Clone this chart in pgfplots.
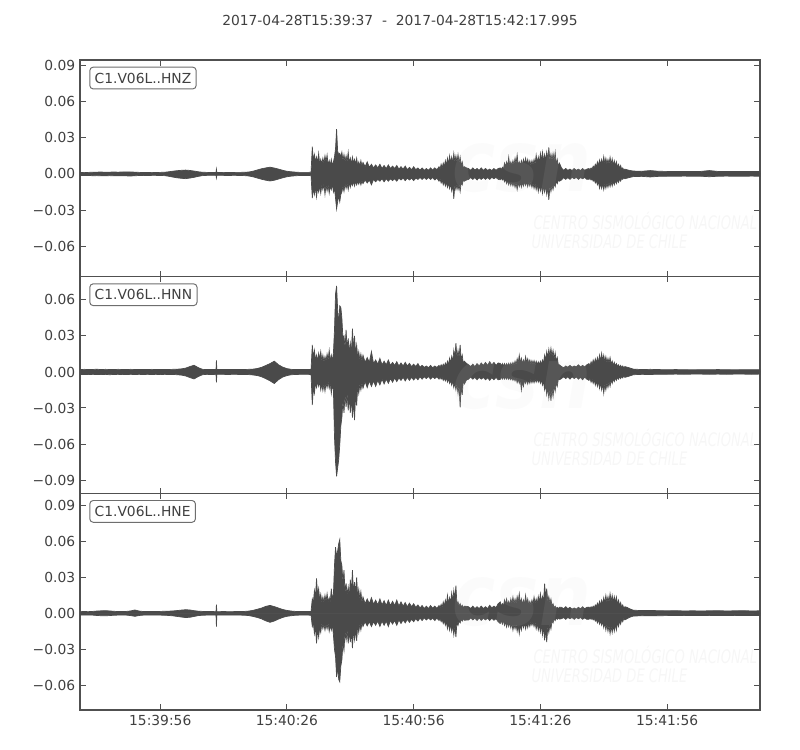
\documentclass[border=0pt]{standalone}
\usepackage{fontspec}
\setmainfont{DejaVu Sans}
\usepackage{pgfplots}
\usepackage{pgfplotstable}
\pgfplotsset{compat=1.18}

\definecolor{trace}{RGB}{74,74,74}
\definecolor{frame}{RGB}{80,80,80}
\definecolor{txt}{RGB}{64,64,64}
\definecolor{boxedge}{RGB}{110,110,110}
\definecolor{wm}{RGB}{215,215,215}

% envelopes of the three components, amplitude in units of 0.001
\pgfplotstableread{
t zu zl nu nl eu el
0 1.2 -1.2 2.0 -2.0 1.4 -1.4
1 1.1 -1.3 2.2 -2.1 1.5 -1.4
2 1.3 -1.2 2.0 -2.2 1.4 -1.5
3 1.4 -1.5 2.1 -2.0 1.6 -1.5
4 1.5 -1.4 2.3 -2.1 1.9 -1.8
5 1.6 -1.5 2.0 -2.2 2.1 -2.0
6 1.4 -1.6 2.2 -2.0 2.2 -2.0
7 1.5 -1.4 2.1 -2.3 2.0 -1.9
8 1.6 -1.5 2.0 -2.1 1.7 -1.6
9 1.5 -1.6 2.2 -2.0 1.5 -1.5
10 1.6 -1.5 2.1 -2.2 1.5 -1.4
11 1.7 -1.6 2.0 -2.1 1.6 -1.5
12 1.6 -1.7 2.2 -2.0 2.0 -1.9
13 1.5 -1.5 2.1 -2.1 2.8 -2.5
14 1.3 -1.3 2.0 -2.0 1.9 -1.8
15 1.2 -1.2 2.1 -2.1 1.5 -1.5
16 1.2 -1.3 2.0 -2.0 1.5 -1.4
17 1.3 -1.2 2.2 -2.1 1.6 -1.5
18 1.2 -1.2 2.0 -2.0 1.5 -1.5
19 1.3 -1.3 2.1 -2.2 1.6 -1.5
20 1.4 -1.4 2.0 -2.0 1.7 -1.6
21 1.8 -1.9 2.1 -2.1 1.8 -1.8
22 2.3 -2.6 2.2 -2.1 2.0 -2.1
23 2.7 -3.2 2.3 -2.3 2.3 -2.6
24 3.0 -3.6 2.6 -2.6 2.7 -3.1
25 3.2 -3.9 3.2 -3.3 3.0 -3.5
26 2.9 -3.4 4.5 -4.6 2.8 -3.3
27 2.4 -2.8 5.6 -5.8 2.2 -2.6
28 1.8 -2.0 3.6 -3.8 1.8 -1.9
29 1.4 -1.4 2.2 -2.3 1.6 -1.6
30 1.3 -1.2 2.0 -2.0 1.5 -1.5
31 1.2 -1.2 2.0 -2.1 1.5 -1.4
32.2 1.2 -1.2 2.0 -2.0 1.4 -1.4
32.3 4.0 -3.4 9.6 -8.6 7.2 -11.0
32.4 1.2 -1.2 2.0 -2.0 1.4 -1.4
33 1.2 -1.2 2.0 -2.0 1.4 -1.4
34 1.3 -1.2 2.1 -2.0 1.5 -1.4
35 1.2 -1.3 2.0 -2.1 1.4 -1.5
36 1.2 -1.2 2.0 -2.0 1.4 -1.4
37 1.3 -1.2 2.1 -2.0 1.5 -1.4
38 1.3 -1.3 2.0 -2.1 1.5 -1.5
39 1.4 -1.4 2.1 -2.1 1.6 -1.6
40 1.6 -1.7 2.2 -2.2 1.9 -1.9
41 2.3 -2.4 2.4 -2.5 2.5 -2.6
42 3.3 -3.4 2.9 -3.0 3.4 -3.5
43 4.3 -4.4 3.9 -4.0 4.4 -4.6
44 5.0 -5.2 5.4 -5.6 5.8 -6.3
45 5.6 -5.8 7.0 -7.4 6.6 -7.5
46 4.9 -5.2 9.0 -9.6 5.6 -6.4
47 4.0 -4.2 6.0 -6.4 4.4 -4.8
48 3.0 -3.2 4.0 -4.2 3.2 -3.4
49 2.2 -2.3 2.8 -3.0 2.4 -2.5
50 1.8 -1.8 2.2 -2.3 1.9 -2.0
51 1.5 -1.5 2.0 -2.1 1.6 -1.6
52 1.3 -1.3 2.0 -2.0 1.5 -1.5
53 1.3 -1.3 2.0 -2.0 1.5 -1.5
54 1.3 -1.3 2.0 -2.0 1.5 -1.5
54.7 1.4 -1.4 2.1 -2.1 1.6 -1.6
55.0 22.5 -20 22.5 -27.5 12 -11
55.25 11 -12 12 -14 9 -8
55.5 16 -17 18 -18 19 -17
55.75 10 -11 10 -9 13 -11
56.0 14 -19 14 -13 29 -25
56.25 9 -11 9 -8 15 -13
56.5 17 -15 15.6 -12 20.6 -20
56.75 8 -10 11 -8 11 -12
57.0 12 -16 17 -15 16 -16
57.25 8 -9 9 -10 9 -8
57.5 13 -13 14 -15.5 13.6 -12.8
57.75 9 -8 8 -10 9 -9
58.0 15 -17 12.8 -16 15 -14
58.25 10 -9 9 -9 10 -9
58.5 15.7 -14 15 -13 16.4 -13
58.75 7 -9 10 -8 9 -8
59.0 11 -16 18 -13.6 13 -15
59.25 7 -10 9 -9 9 -10
59.5 12 -13 14 -18 20.6 -14
59.75 7 -8 9 -11 12 -9
60.0 10 -15 16 -15 16 -18
60.25 14 -12 35 -54 40 -30
60.5 21 -20 65 -75 55 -36
60.75 37 -29 71.7 -87 47 -53
61.0 19 -23 52 -80 52 -45
61.25 16 -18 40 -73 58 -55
61.5 17 -23 55 -61 61.4 -57
61.75 14 -17 54 -45 44 -44
62.0 18 -15 45 -38 40 -39
62.25 11 -10 28 -24 26 -25
62.5 16 -14.5 30 -34 36 -31
62.75 10 -8 20 -19 17 -15
63.0 15 -12 35 -29 25 -22.5
63.25 10 -8 19 -18 15 -14
63.5 18 -13 28 -32 22 -25
63.75 9 -7 16 -20 14 -15
64.0 13 -11 24 -34 28 -24
64.25 8 -7 15 -21 17 -15
64.5 14 -9.5 36 -38 36 -29
64.75 9 -6 19 -24 17 -14
65.0 12 -10 30 -40 26 -22
65.25 8 -6 15 -18 16 -14
65.5 13 -9 22.5 -28 30 -23
65.75 7 -6 12 -12 13 -10
66.0 10 -8.5 17 -18 20 -16
66.25 6.5 -5.5 10 -10 12 -9
66.5 11 -9 15 -15 18 -14
66.75 6.5 -5.5 9 -9 9 -8
67 9.5 -8 14 -13.6 13.6 -11
67.5 6 -5 8 -8 8 -7
68 10 -7.5 12 -13 12 -10.5
68.5 5.5 -5 8 -7.5 8 -7
69 8 -9 17 -12 13 -11
69.5 5 -4.5 7 -7.5 7.5 -7
70 7.5 -6.5 10 -12 11 -10
70.5 5 -4.5 6.5 -7 7 -6.5
71 8 -6 11.4 -10.8 12 -11
71.5 4.5 -4 6 -6 7 -6.5
72 7 -6.5 9 -10 10.5 -10
72.5 4.5 -4 6 -6 6.5 -6.5
73 7.5 -6 10 -9.5 11 -11
73.5 4.5 -4 5.5 -5.5 6.5 -6
74 6.5 -5.5 8 -8.5 10 -9
74.5 4.5 -4 5.5 -5 6.5 -6
75 7 -6 8.6 -8 11 -10
75.5 4 -3.5 5 -5 6 -5.5
76 6 -5 7.5 -7 9.5 -8.5
76.5 4 -3.5 5 -4.5 6 -5.5
77 6.5 -5.5 8 -7.5 9 -8
77.5 3.5 -3.5 5 -4.5 5.5 -5
78 5.5 -5 7.2 -7 8.5 -7.5
78.5 3.5 -3.5 4.5 -4.5 5.5 -5
79 6 -5.5 6.5 -6.7 8 -7
79.5 3.5 -3.5 4.5 -4.5 5 -4.5
80 5 -4.5 7 -6.5 7 -6.5
80.5 3.2 -3 4 -4 4.5 -4
81 5 -4.5 5.5 -6 6.5 -6
81.5 3 -3 3.8 -4 4 -3.8
82 4.5 -4.5 5 -5.5 6 -5.5
82.5 3 -3 3.5 -3.8 4 -3.8
83 5 -4.5 5.5 -6 6.5 -5.5
83.5 3.2 -3 3.5 -4 4.2 -4
84 5 -5 5 -5.5 6 -6
84.5 3.5 -3.5 3.8 -4 4.2 -4
85.0 6 -6 5.5 -6 6.5 -6
85.25 4 -4 4 -4 4.5 -4.2
85.5 8 -7.5 6 -6 7.5 -7
85.75 5 -5 4.2 -4.5 5 -5
86.0 9 -9 6.5 -7 9.5 -8.6
86.25 6 -6 4.5 -5 6 -6
86.5 11 -10 7.5 -7.5 11 -10
86.75 7 -7 5 -5 7 -7
87.0 13 -11 9 -8.5 15 -12.8
87.25 8 -7.5 6 -6 8 -8
87.5 15 -12 11.4 -9.5 13 -14
87.75 9 -8 7.5 -7 9 -9
88.0 14 -14 13 -11 17 -15
88.25 9 -9 8.5 -7.5 10 -10
88.5 17 -20.5 18 -13 19 -18
88.75 10 -9 12 -9 12 -11
89.0 15 -13 24 -15 23 -19.7
89.25 9.5 -8.5 12 -10 7 -7
89.5 16 -13 18 -18 9.5 -10
89.75 9 -8.5 12 -11 6 -6
90.0 14 -14.5 22.5 -29.5 8 -8
90.25 7 -7 10 -12 5 -5
90.5 10 -9 14 -19 6.7 -6.5
90.75 5 -5 7 -7 4.5 -4.5
91 6 -6 9 -10 6 -5.8
91.5 5 -5 7.2 -6.7 5.8 -5.6
92 4.5 -4.5 6 -6 5.5 -5.5
92.5 3 -3 4.5 -4.2 4 -3.8
93 5 -4.5 6.5 -6 6 -5.5
93.5 3.2 -3 4.5 -4.5 4 -4
94 4.5 -5 7 -6.5 5.5 -6
94.5 3 -3.2 5 -4.5 4 -4
95 5 -4.5 7.5 -6 6 -5.8
95.5 3 -3 5.5 -4.5 4 -4
96 4.5 -4.5 8 -6.5 5.5 -5.5
96.5 3 -3 5.5 -4.8 4 -4
97 4 -4.5 8.6 -7 6.7 -6
97.5 2.8 -2.8 5.8 -4.8 4.5 -4
98 4.5 -4 8 -6.5 6 -5.8
98.5 3 -2.8 5.5 -4.5 4.8 -4.5
99 4.5 -4.5 7.5 -6.5 8 -7
99.5 5 -4.8 7.2 -6.2 9.5 -8.5
99.75 3.5 -3.3 5 -4.3 6 -6
100.0 5.5 -5 7 -6 8 -9
100.25 4 -3.5 4.8 -4.2 6 -6
100.5 9 -6.5 7 -6 11 -10
100.75 6 -4.5 4.8 -4.2 7.5 -7
101.0 10 -8 7 -6 12 -11.4
101.25 6.5 -5.5 5 -4.2 7 -7.5
101.5 14 -9 7.2 -6.2 10 -11
101.75 6.5 -6 5 -4.4 7 -7.5
102.0 10 -9.5 7.5 -6.5 12 -12
102.25 7 -6.5 5.2 -4.5 8 -8
102.5 11 -10 8 -7 13.6 -14
102.75 7.5 -7 5.5 -5 8 -9
103.0 13 -11 9 -7.5 12 -13
103.25 8.5 -7.5 6 -5 8 -9
103.5 15.7 -13 11 -9 14 -15
103.75 7 -7 7.5 -6 9.5 -10
104.0 10 -10.5 14 -9.5 16.4 -17
104.25 7 -7 7.5 -6.5 8 -9.5
104.5 11 -11 11.4 -15 12 -14
104.75 7.5 -7 7 -8 7.5 -8
105.0 12 -10 10 -12 11 -12
105.25 8 -6.5 7 -6.5 7.5 -8
105.5 13 -9.5 12.8 -9.5 15 -13
105.75 8 -6.5 7.5 -6.5 8 -8
106.0 12 -10.5 11 -10 12 -12
106.25 7.5 -6.5 7 -6.5 7 -7.5
106.5 11 -10 10 -9.5 10 -11
106.75 7 -6.5 6.5 -6 7 -7
107.0 11 -11 9.5 -9 11 -10
107.25 7.5 -7.5 6.5 -6 7.5 -7
107.5 12 -12 9.5 -9 13.6 -11
107.75 8 -8 6 -6 8 -7.5
108.0 15.7 -13 9 -8.5 12 -13
108.25 9 -8.5 6 -5.8 8 -8.5
108.5 14 -14.6 8.5 -8.5 14 -14
108.75 9 -9 6 -6 9 -9.5
109.0 17 -14 9 -9.5 16.4 -15.6
109.25 11 -9.5 6.5 -6.5 9.5 -10
109.5 18 -16 10 -11 14 -18
109.75 10.5 -10 7.5 -8 9.5 -11
110.0 16 -15 14 -15 24.7 -22.5
110.25 11 -10 10 -11 13 -14
110.5 18 -17 17 -19 20.6 -24
110.75 12 -11 12 -13 10 -11
111.0 22 -21.5 19 -22 14 -16
111.25 11 -10 13 -15 8.5 -9
111.5 16.5 -14.6 19.7 -24 12 -13
111.75 11 -9.5 13 -14 6 -6
112.0 17 -13 18 -20.5 8 -8
112.25 11 -8 11 -11 4.5 -4.5
112.5 18 -10.5 16 -16 6 -6
112.75 8 -6 9 -9 4 -3.8
113.0 12 -8 12 -12 5 -5
113.25 6 -5 6 -6 3.8 -3.8
113.5 9 -6 6 -6.5 5 -4.8
114 5 -5 4.5 -5.5 5 -4.5
114.5 3 -3 3.5 -4 3.8 -3.5
115 4.5 -4.5 5 -5.5 5.5 -5
115.5 3 -3 4 -4 3.8 -3.5
116 4 -4.5 5.5 -6 5 -4.5
116.5 2.8 -2.8 4 -4 3.5 -3.5
117 4.5 -4 5 -5.5 4.5 -5
117.5 3 -2.8 4.2 -4.2 3.5 -3.5
118 4 -4.5 6 -6 5 -4.5
118.5 2.8 -3 4.2 -4.5 3.8 -3.5
119 4.5 -4 5.5 -6.5 5.5 -5
119.5 3 -2.8 4.2 -4.2 3.8 -3.8
120 4 -4.5 6 -6 5 -5
120.5 4.5 -4.5 7 -7 5.2 -5
120.75 3.5 -3.5 5 -5 4 -3.8
121.0 5 -5 8.5 -8.5 5.5 -5
121.25 4 -3.8 6 -6 4.2 -4
121.5 6.5 -6 10 -9.5 6 -5.5
121.75 5 -4.5 7 -6.5 4.5 -4.2
122.0 8 -7.5 11 -11 7 -6.5
122.25 6 -5.5 7.5 -7.5 5.5 -5
122.5 10 -9 12 -12 8.5 -8
122.75 7 -6.5 8 -8 6 -5.5
123.0 11.5 -11.8 14 -13.6 10 -9
123.25 8 -8 9 -9 7 -6.5
123.5 12 -12 15.6 -15 11 -10
123.75 8 -8 9.5 -10 7.5 -7
124.0 14.3 -13 14 -17.8 13 -12
124.25 8.5 -8 8.5 -10 8.5 -8
124.5 13 -11.8 12.8 -15 15 -14
124.75 8 -7.5 7.5 -9 9 -9
125.0 12 -11 11.4 -13 14 -15
125.25 8 -7 7.5 -8 9 -10
125.5 13.8 -10.5 12 -12 16.4 -17
125.75 8 -6.5 6.5 -6.5 10 -10.5
126.0 12.5 -10 9 -9.5 15 -16
126.25 7 -6 5.5 -6 9 -10
126.5 11 -9 8 -8 14 -15
126.75 6.5 -5.5 5 -5 9 -9
127.0 10 -8 7 -7 13.6 -14
127.25 5.5 -4.8 4.5 -4.5 7.5 -7.5
127.5 8 -7 6 -6 11 -11
127.75 4.8 -4.2 4 -4 6.5 -6.5
128.0 7 -6 5.5 -5.5 9 -9
128.25 3.8 -3.5 3.8 -3.8 5 -5
128.5 5 -4.5 5 -5 7 -7
128.75 3 -3 3.2 -3.2 4 -4
129.0 4 -4 4.5 -4.5 5.5 -5.5
129.5 3.5 -3.5 4 -4 5 -4.5
130.0 3 -3 3.5 -3.5 4 -3.5
131 2.4 -2.2 2.4 -2.3 2.6 -2.3
133 2.2 -2.0 2.0 -2.0 2.3 -2.0
135 2.8 -2.5 2.2 -2.1 2.4 -2.1
137 2.2 -2.0 2.0 -1.9 2.2 -2.0
139 2.1 -1.9 1.9 -1.9 2.1 -1.9
141 2.0 -1.9 2.0 -1.8 2.2 -1.8
143 2.1 -1.8 1.9 -1.9 2.0 -1.9
145 2.0 -1.9 1.8 -1.8 2.1 -1.8
147 2.1 -1.9 1.9 -1.8 2.0 -1.8
149 2.8 -2.3 1.9 -1.9 2.1 -1.9
151 2.1 -1.9 2.0 -1.8 2.2 -1.8
153 2.0 -1.8 1.9 -1.9 2.0 -1.8
155 2.1 -1.9 1.8 -1.8 2.1 -1.9
157 2.0 -1.9 1.9 -1.8 2.2 -1.8
159 2.1 -1.8 1.9 -1.9 2.0 -1.8
161 2.0 -1.9 1.9 -1.8 2.1 -1.8
}\wave

\pgfplotsset{
  seis/.style={
    scale only axis, width=489.6bp, height=156bp,
    anchor=south west,
    xmin=0, xmax=160.995,
    xtick={19,49,79,109,139},
    tick align=inside, tick pos=both,
    major tick length=4bp,
    axis line style={draw=frame, line width=0.9pt},
    every tick/.style={draw=frame, line width=0.7pt},
    tick label style={font=\fontsize{10}{12}\selectfont, text=txt},
  },
  env/.style={fill=trace, draw=trace, line width=0.5pt},
}
\tikzset{
  chan/.style={anchor=north west, xshift=6.7bp, yshift=-4.8bp, draw=boxedge,
    line width=0.7pt, rounded corners=2.5bp, fill=white, text=txt,
    font=\fontsize{10}{12}\selectfont, inner xsep=3.5bp, inner ysep=4.2bp,
    text height=7.3bp, text depth=0pt},
  wmtext/.style={anchor=west, text=wm, text opacity=0.22, xscale=0.7,
    font=\fontsize{13.5}{14}\selectfont\itshape},
  wmlogo/.style={anchor=center, text=wm, text opacity=0.09, xscale=0.85,
    font=\fontsize{62}{62}\selectfont\bfseries\itshape},
}

\begin{document}
\begin{tikzpicture}
\path[use as bounding box] (0,0) rectangle (576bp,540bp);
\node[font=\fontsize{10}{12}\selectfont, text=txt] at (288bp,524.9bp)
  {2017-04-28T15:39:37\ \ -\ \ 2017-04-28T15:42:17.995};

\begin{axis}[seis, at={(57.6bp,340.8bp)},
  ymin=-84.9, ymax=94.2,
  ytick={-60,-30,0,30,60,90},
  yticklabels={−0.06,−0.03,0.00,0.03,0.06,0.09},
  xticklabels={}]
  \addplot[env] table[x=t,y=zu]{\wave} \closedcycle;
  \addplot[env] table[x=t,y=zl]{\wave} \closedcycle;
  \node[wmlogo] at (rel axis cs:0.65,0.5) {csn};
  \node[wmtext] at (rel axis cs:0.662,0.255) {CENTRO SISMOLÓGICO NACIONAL};
  \node[wmtext] at (rel axis cs:0.659,0.16) {UNIVERSIDAD DE CHILE};
  \node[chan] at (rel axis cs:0,1) {C1.V06L..HNZ};
\end{axis}

\begin{axis}[seis, at={(57.6bp,184.8bp)},
  ymin=-101.1, ymax=79.4,
  ytick={-90,-60,-30,0,30,60},
  yticklabels={−0.09,−0.06,−0.03,0.00,0.03,0.06},
  xticklabels={}]
  \addplot[env] table[x=t,y=nu]{\wave} \closedcycle;
  \addplot[env] table[x=t,y=nl]{\wave} \closedcycle;
  \node[wmlogo] at (rel axis cs:0.65,0.5) {csn};
  \node[wmtext] at (rel axis cs:0.662,0.255) {CENTRO SISMOLÓGICO NACIONAL};
  \node[wmtext] at (rel axis cs:0.659,0.16) {UNIVERSIDAD DE CHILE};
  \node[chan] at (rel axis cs:0,1) {C1.V06L..HNN};
\end{axis}

\begin{axis}[seis, at={(57.6bp,28.8bp)},
  ymin=-80.5, ymax=99.9,
  ytick={-60,-30,0,30,60,90},
  yticklabels={−0.06,−0.03,0.00,0.03,0.06,0.09},
  xticklabels={15:39:56,15:40:26,15:40:56,15:41:26,15:41:56}]
  \addplot[env] table[x=t,y=eu]{\wave} \closedcycle;
  \addplot[env] table[x=t,y=el]{\wave} \closedcycle;
  \node[wmlogo] at (rel axis cs:0.65,0.5) {csn};
  \node[wmtext] at (rel axis cs:0.662,0.255) {CENTRO SISMOLÓGICO NACIONAL};
  \node[wmtext] at (rel axis cs:0.659,0.16) {UNIVERSIDAD DE CHILE};
  \node[chan] at (rel axis cs:0,1) {C1.V06L..HNE};
\end{axis}
\end{tikzpicture}
\end{document}
